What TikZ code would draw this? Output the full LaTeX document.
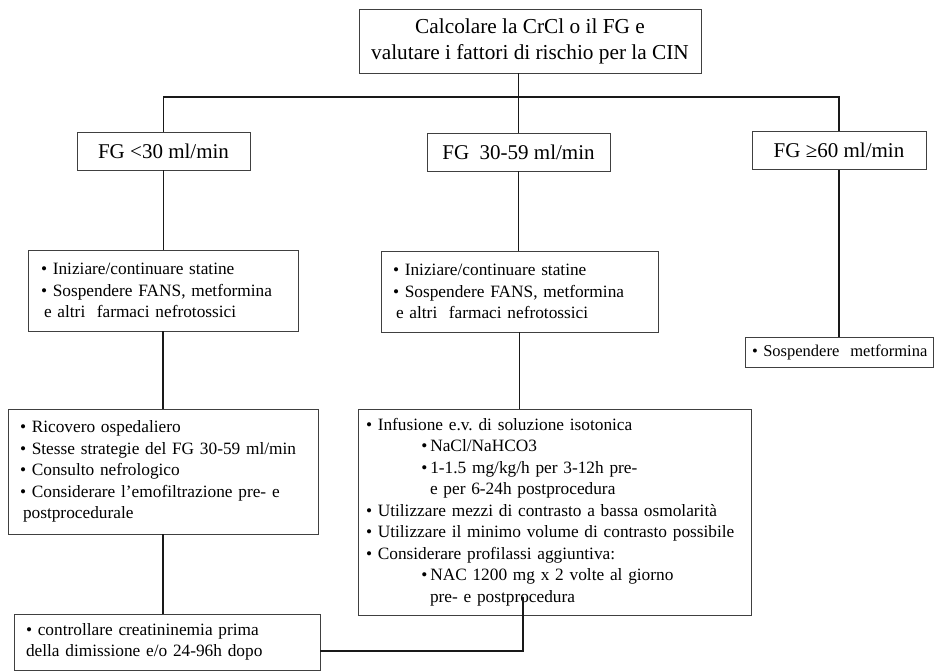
\documentclass[tikz,border=0pt]{standalone}
\usepackage{fontspec}
\setmainfont{Liberation Serif}
\usetikzlibrary{calc}
\hyphenpenalty=10000
\frenchspacing

\begin{document}
\begin{tikzpicture}[x=1pt,y=-1pt,
	box/.style={draw=black!75,line width=0.8pt,align=left,inner xsep=10pt,inner ysep=0pt,
		font=\fontsize{17.3}{21.5}\selectfont},
	fgbox/.style={box,align=center,minimum height=38pt,font=\fontsize{21}{24}\selectfont},
	link/.style={line width=1.5pt,black!90}]
	\useasboundingbox (0,0) rectangle (941,671);
	\node[box,align=center,minimum width=342pt,minimum height=64pt,
		font=\fontsize{21.3}{26}\selectfont](calc) at (530,41)
		{Calcolare la CrCl o il FG e\\valutare i fattori di rischio per la CIN};
	\node[fgbox,minimum width=173pt](fg1) at (163.5,151){FG <30 ml/min};
	\node[fgbox,minimum width=183pt](fg2) at (518.5,152){FG \ 30-59 ml/min};
	\node[fgbox,minimum width=174pt](fg3) at (839,150.5){FG ≥60 ml/min};
	
	\node[box,inner xsep=13pt,text width=244pt,minimum height=81pt](stat1) at (163,290.5)
		{• Iniziare/continuare statine\\• Sospendere FANS, metformina\\\hspace*{3pt}e altri \ farmaci nefrotossici};
	\node[box,inner xsep=12pt,text width=253pt,minimum height=81pt](stat2) at (519.5,291.5)
		{• Iniziare/continuare statine\\• Sospendere FANS, metformina\\\hspace*{3pt}e altri \ farmaci nefrotossici};
	\node[box,inner xsep=7pt,text width=174pt,minimum height=30pt,
		font=\fontsize{16.5}{20}\selectfont](sosp) at (839,352)
		{\mbox{• Sospendere \ metformina}};
	
	\node[box,inner xsep=12pt,text width=286pt,minimum height=125pt](ric) at (163,471.5)
		{• Ricovero ospedaliero\\• Stesse strategie del FG 30-59 ml/min\\• Consulto nefrologico\\
		• Considerare l’emofiltrazione pre- e\\\hspace*{3pt}postprocedurale};
	\node[box,inner xsep=8pt,text width=377pt,minimum height=206pt](inf) at (554.5,512)
		{• Infusione e.v. di soluzione isotonica\\
		\hspace*{3.2em}•\,NaCl/NaHCO3\\
		\hspace*{3.2em}•\,1-1.5 mg/kg/h per 3-12h pre-\\
		\hspace*{3.7em}e per 6-24h postprocedura\\
		• Utilizzare mezzi di contrasto a bassa osmolarità\\
		• Utilizzare il minimo volume di contrasto possibile\\
		• Considerare profilassi aggiuntiva:\\
		\hspace*{3.2em}•\,NAC 1200 mg x 2 volte al giorno\\
		\hspace*{3.7em}pre- e postprocedura};
	\node[box,inner xsep=12pt,text width=282pt,minimum height=56pt](check) at (167,642)
		{• controllare creatininemia prima\\della dimissione e/o 24-96h dopo};
	
	% connettori
	\coordinate (bus) at (0,97);
	\coordinate (join) at (523,651);
	\draw[link] (calc.south -| fg2.north) -- (fg2.north);
	\draw[link] (fg1.north) -- (fg1.north |- bus) -- (fg3.north |- bus) -- (fg3.north);
	\draw[link] (fg1.south) -- (fg1.south |- stat1.north);
	\draw[link] (fg2.south) -- (fg2.south |- stat2.north);
	\draw[link] (fg3.south) -- (fg3.south |- sosp.north);
	\draw[link] (stat1.south) -- (stat1.south |- ric.north);
	\draw[link] (stat2.south) -- (stat2.south |- inf.north);
	\draw[link] (ric.south) -- (ric.south |- check.north);
	\draw[link] ($(join |- inf.south)+(0,-18)$) -- (join) -- (join -| check.east);
\end{tikzpicture}
\end{document}
